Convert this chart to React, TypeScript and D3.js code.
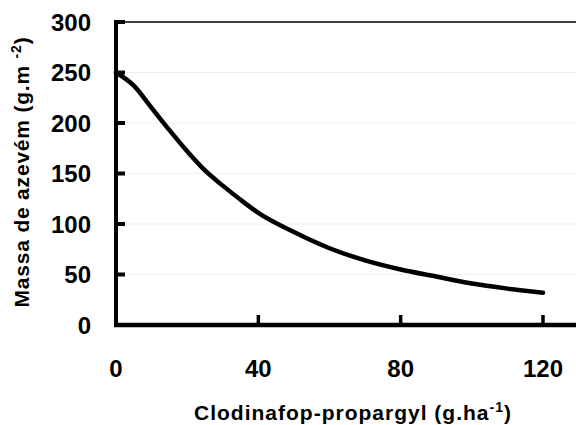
import React from 'react';
import * as d3 from 'd3';

// Dose of herbicide (g/ha) and ryegrass mass
const doses = [0, 5, 10, 15, 20, 25, 30, 35, 40, 50, 60, 70, 80, 90, 100, 110, 120];
const mass = [250, 237, 215, 193, 172, 153, 138, 124, 111, 92, 76, 64, 55, 48, 41, 36, 32];

const xTicks = [0, 40, 80, 120];
const yTicks = [0, 50, 100, 150, 200, 250, 300];

const width = 576;
const height = 425;
const font = '"Liberation Sans", Arial, sans-serif';

const App = () => {
    // Plot area: y=0 sits on the x axis, the frame runs off the right edge
    const margin = { top: 22, right: 0, bottom: 100, left: 116 };

    const xScale = d3.scaleLinear().domain([0, 120]).range([margin.left, 543]);
    const yScale = d3.scaleLinear().domain([0, 300]).range([height - margin.bottom, margin.top]);

    const points: [number, number][] = doses.map((d, i) => [d, mass[i]]);
    const line = d3
        .line<[number, number]>()
        .x((d) => xScale(d[0]))
        .y((d) => yScale(d[1]))
        .curve(d3.curveMonotoneX);

    const x0 = xScale(0);
    const y0 = yScale(0);

    return (
        <svg
            width={width}
            height={height}
            style={{ position: 'absolute', left: 0, top: 0, background: '#fff' }}
            fontFamily={font}
            fontWeight="bold"
        >
            {/* faint scan-like gridlines */}
            {yTicks.slice(1, -1).map((t) => (
                <line key={`g-${t}`} x1={x0 + 10} x2={width} y1={yScale(t)} y2={yScale(t)} stroke="#e9f1f1" strokeWidth={1} />
            ))}

            {/* top frame line */}
            <line x1={x0} x2={width} y1={yScale(300)} y2={yScale(300)} stroke="#000" strokeWidth={1.5} />

            {/* y axis */}
            <line x1={x0} x2={x0} y1={yScale(300) - 2} y2={y0 + 2} stroke="#000" strokeWidth={4} />
            {yTicks.slice(1).map((t) => (
                <line key={`yt-${t}`} x1={x0} x2={x0 + 9} y1={yScale(t)} y2={yScale(t)} stroke="#000" strokeWidth={4} />
            ))}
            {yTicks.map((t) => (
                <text key={`yl-${t}`} x={91} y={yScale(t)} dy="0.36em" textAnchor="end" fontSize={24}>
                    {t}
                </text>
            ))}

            {/* x axis */}
            <line x1={x0 - 2} x2={width} y1={y0} y2={y0} stroke="#000" strokeWidth={4.5} />
            {xTicks.slice(1).map((t) => (
                <line key={`xt-${t}`} x1={xScale(t)} x2={xScale(t)} y1={y0} y2={y0 - 10} stroke="#000" strokeWidth={3.5} />
            ))}
            {xTicks.map((t) => (
                <text key={`xl-${t}`} x={xScale(t)} y={377} textAnchor="middle" fontSize={24}>
                    {t}
                </text>
            ))}

            {/* fitted curve */}
            <path d={line(points) ?? ''} fill="none" stroke="#000" strokeWidth={4.5} strokeLinecap="round" />

            {/* axis titles */}
            <text x={353} y={420} textAnchor="middle" fontSize={21} letterSpacing={1}>
                Clodinafop-propargyl (g.ha
                <tspan dy={-8} fontSize={14}>-1</tspan>
                <tspan dy={8}>)</tspan>
            </text>
            <text transform={`translate(29, 172) rotate(-90)`} textAnchor="middle" fontSize={21} letterSpacing={0.8}>
                Massa de azevém (g.m{' '}
                <tspan dy={-8} fontSize={14}>-2</tspan>
                <tspan dy={8}>)</tspan>
            </text>
        </svg>
    );
};

export default App;
